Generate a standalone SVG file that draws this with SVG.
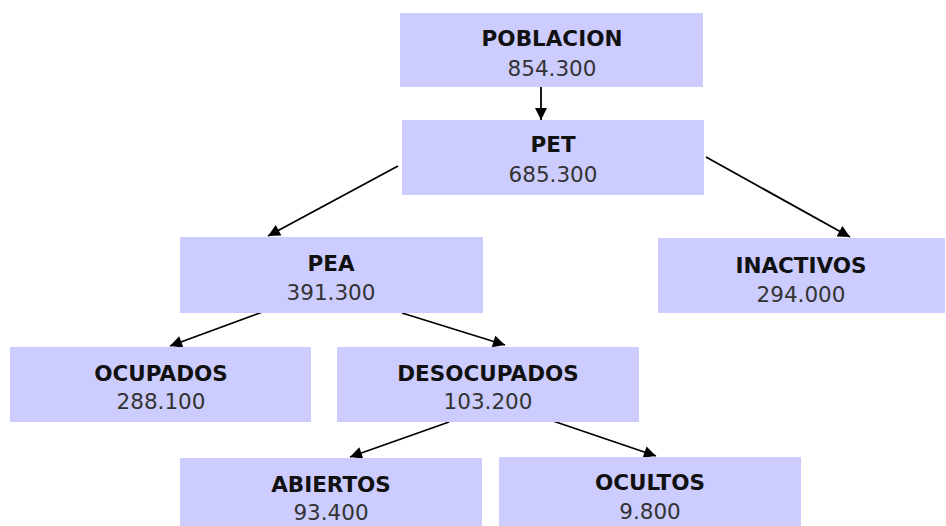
<svg xmlns="http://www.w3.org/2000/svg" width="946" height="526" viewBox="0 0 946 526">
<style>
.box{fill:#CCCCFF;}
.t{font-family:"DejaVu Sans","Liberation Sans",sans-serif;font-size:21.5px;font-weight:bold;fill:#111;text-anchor:middle;}
.n{font-family:"DejaVu Sans","Liberation Sans",sans-serif;font-size:21.5px;fill:#333;text-anchor:middle;}
.e{stroke:#000;stroke-width:1.8;fill:none;marker-end:url(#ah);}
</style>
<defs>
<marker id="ah" viewBox="0 0 10 10" refX="10" refY="5" markerWidth="13" markerHeight="12" markerUnits="userSpaceOnUse" orient="auto">
<path d="M0,0 L10,5 L0,10 z" fill="#000"/>
</marker>
</defs>
<rect width="946" height="526" fill="#fff"/>
<g id="connectors">
<line class="e" x1="541" y1="87" x2="541" y2="120"/>
<line class="e" x1="398" y1="166" x2="268" y2="236"/>
<line class="e" x1="706" y1="157" x2="850" y2="237"/>
<line class="e" x1="268" y1="310" x2="170" y2="346"/>
<line class="e" x1="402" y1="313" x2="505" y2="345"/>
<line class="e" x1="449" y1="422" x2="350" y2="457"/>
<line class="e" x1="553" y1="421" x2="656" y2="456"/>
</g>
<g id="poblacion">
<rect class="box" x="400" y="13" width="303" height="74"/>
<text class="t" x="552" y="46">POBLACION</text>
<text class="n" x="552" y="76">854.300</text>
</g>
<g id="pet">
<rect class="box" x="402" y="120" width="302" height="75"/>
<text class="t" x="553" y="152">PET</text>
<text class="n" x="553" y="182">685.300</text>
</g>
<g id="pea">
<rect class="box" x="180" y="237" width="303" height="76"/>
<text class="t" x="331" y="271">PEA</text>
<text class="n" x="331" y="300">391.300</text>
</g>
<g id="inactivos">
<rect class="box" x="658" y="238" width="287" height="75"/>
<text class="t" x="801" y="273">INACTIVOS</text>
<text class="n" x="801" y="302">294.000</text>
</g>
<g id="ocupados">
<rect class="box" x="10" y="347" width="301" height="75"/>
<text class="t" x="161" y="381">OCUPADOS</text>
<text class="n" x="161" y="409">288.100</text>
</g>
<g id="desocupados">
<rect class="box" x="337" y="347" width="302" height="75"/>
<text class="t" x="488" y="381">DESOCUPADOS</text>
<text class="n" x="488" y="409">103.200</text>
</g>
<g id="abiertos">
<rect class="box" x="180" y="458" width="302" height="70"/>
<text class="t" x="331" y="492">ABIERTOS</text>
<text class="n" x="331" y="520">93.400</text>
</g>
<g id="ocultos">
<rect class="box" x="499" y="457" width="302" height="71"/>
<text class="t" x="650" y="490">OCULTOS</text>
<text class="n" x="650" y="519">9.800</text>
</g>
</svg>
